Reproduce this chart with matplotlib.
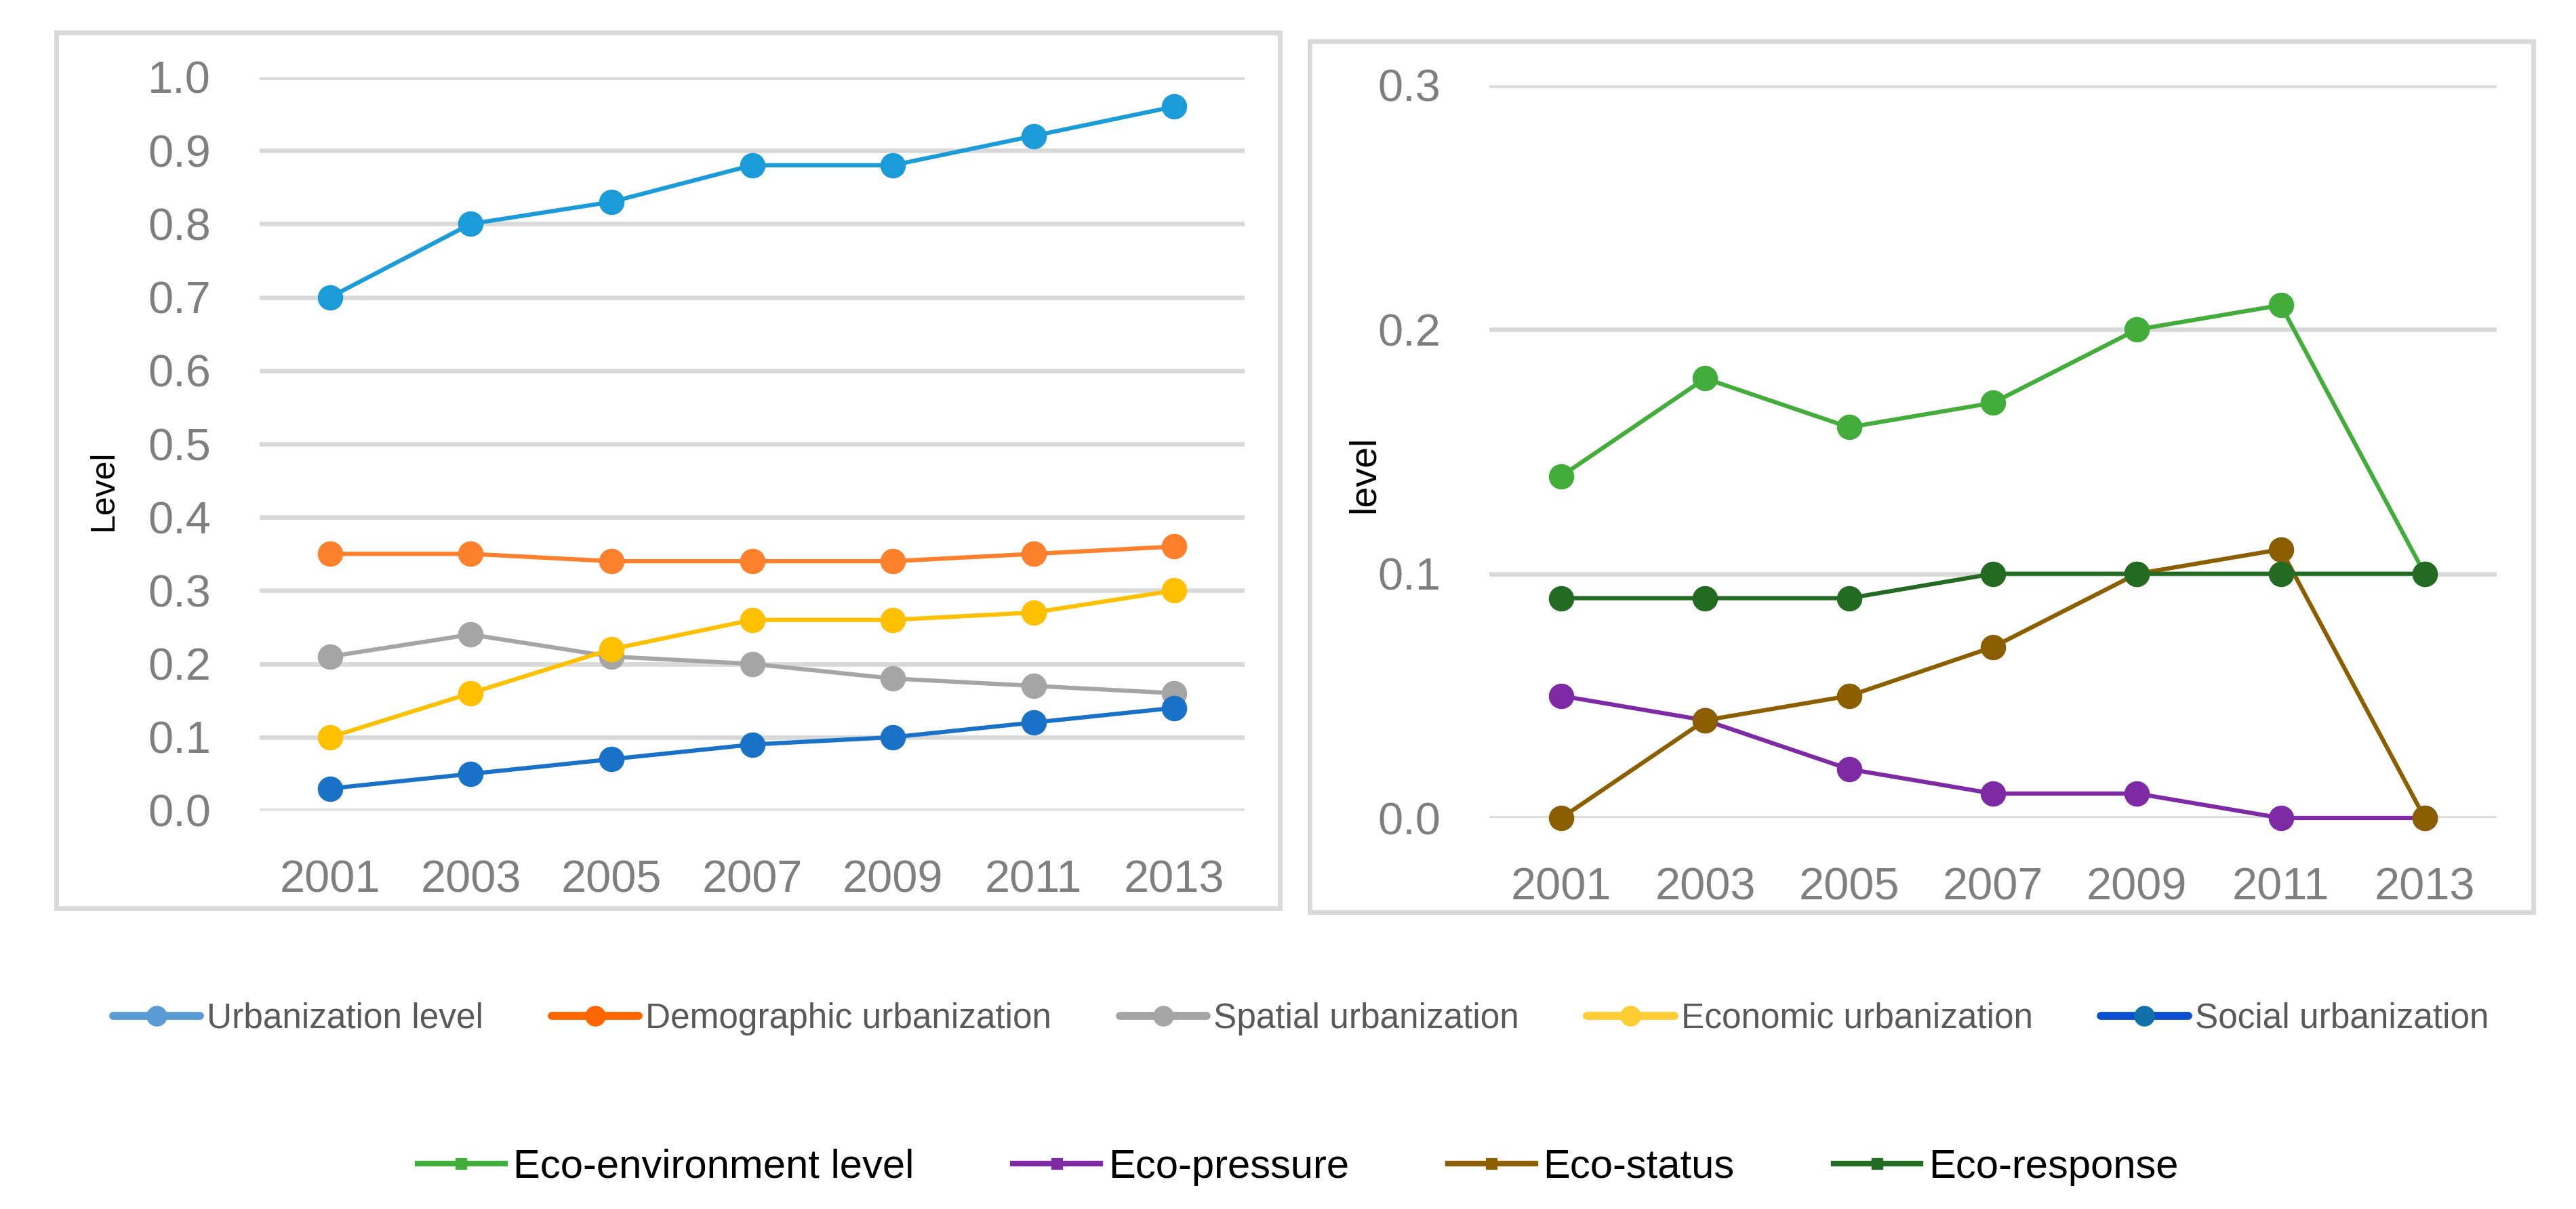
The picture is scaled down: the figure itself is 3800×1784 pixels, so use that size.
import matplotlib
matplotlib.use('Agg')
import matplotlib.pyplot as plt
from matplotlib.lines import Line2D
from matplotlib.patches import Rectangle

plt.rcParams['font.family'] = ['Liberation Sans', 'DejaVu Sans']

years = ['2001', '2003', '2005', '2007', '2009', '2011', '2013']

# left panel: urbanization subsystems
urbanization = [0.70, 0.80, 0.83, 0.88, 0.88, 0.92, 0.96]
demographic = [0.35, 0.35, 0.34, 0.34, 0.34, 0.35, 0.36]
spatial = [0.21, 0.24, 0.21, 0.20, 0.18, 0.17, 0.16]
economic = [0.10, 0.16, 0.22, 0.26, 0.26, 0.27, 0.30]
social = [0.03, 0.05, 0.07, 0.09, 0.10, 0.12, 0.14]
left_names = ['Urbanization level', 'Demographic urbanization', 'Spatial urbanization',
              'Economic urbanization', 'Social urbanization']
left_colors = ['#1B9CD9', '#FE7F2C', '#A5A5A5', '#FFC000', '#1A72C8']
left_legend_colors = ['#5B9BD5', '#FF6600', '#A5A5A5', '#FFCC33', '#0A50D0']
left_legend_marker = ['#5B9BD5', '#FF6600', '#A5A5A5', '#FFCC33', '#1070A8']

# right panel: eco-environment subsystems
eco_env = [0.14, 0.18, 0.16, 0.17, 0.20, 0.21, 0.10]
eco_pressure = [0.05, 0.04, 0.02, 0.01, 0.01, 0.00, 0.00]
eco_status = [0.00, 0.04, 0.05, 0.07, 0.10, 0.11, 0.00]
eco_response = [0.09, 0.09, 0.09, 0.10, 0.10, 0.10, 0.10]
right_names = ['Eco-environment level', 'Eco-pressure', 'Eco-status', 'Eco-response']
right_colors = ['#43AD3B', '#7F2AA5', '#8B5E00', '#236B23']

W, H = 3800, 1784
fig = plt.figure(figsize=(W / 100, H / 100), dpi=100)

grid_c = '#D9D9D9'
tick_c = '#7F7F7F'


def fx(px):
    return px / W


def fy(py):
    return 1 - py / H


def style_axis(ax, ymax, step):
    x = list(range(len(years)))
    ax.set_xlim(-0.5, len(years) - 0.5)
    ax.set_ylim(0, ymax)
    ticks = [i * step for i in range(int(round(ymax / step)) + 1)]
    ax.set_yticks(ticks)
    ax.set_yticklabels(['%.1f' % t for t in ticks])
    ax.set_xticks(x)
    ax.set_xticklabels(years)
    for s in ax.spines.values():
        s.set_visible(False)
    ax.tick_params(length=0, labelsize=48, labelcolor=tick_c, pad=52)
    ax.grid(axis='y', color=grid_c, linewidth=4.8)
    ax.set_axisbelow(True)
    return x


# frames around each chart
fig.add_artist(Rectangle((fx(83), fy(1340)), fx(1888 - 83), (1340 - 48) / H,
                         fill=False, edgecolor=grid_c, linewidth=5, transform=fig.transFigure))
fig.add_artist(Rectangle((fx(1932), fy(1346)), fx(3737 - 1932), (1346 - 61) / H,
                         fill=False, edgecolor=grid_c, linewidth=5, transform=fig.transFigure))

ax1 = fig.add_axes([fx(383), fy(1196), fx(1836 - 383), (1196 - 114) / H])
x = style_axis(ax1, 1.0, 0.1)
for vals, c in zip([urbanization, demographic, spatial, economic, social], left_colors):
    ax1.plot(x, vals, color=c, linewidth=4.5, marker='o', markersize=26, clip_on=False)
ax1.set_ylabel('Level', fontsize=36, color='black')
ax1.yaxis.set_label_coords(-0.1425, 0.437)

ax2 = fig.add_axes([fx(2197), fy(1207), fx(3683 - 2197), (1207 - 126) / H])
x = style_axis(ax2, 0.3, 0.1)
for vals, c in zip([eco_env, eco_pressure, eco_status, eco_response], right_colors):
    ax2.plot(x, vals, color=c, linewidth=4.5, marker='o', markersize=26, clip_on=False)
ax2.set_ylabel('level', fontsize=40, color='black')
ax2.yaxis.set_label_coords(-0.1063, 0.469)

# legends
h1 = [Line2D([], [], color=c, linewidth=8.5, solid_capstyle='round', marker='o',
             markersize=21, markerfacecolor=m, markeredgecolor=m)
      for c, m in zip(left_legend_colors, left_legend_marker)]
fig.legend(h1, left_names, loc='center', bbox_to_anchor=(1919 / W, fy(1503)), ncol=5,
           frameon=False, fontsize=37, labelcolor='#595959', handlelength=2.5,
           handletextpad=0.2, columnspacing=1.95)

h2 = [Line2D([], [], color=c, linewidth=6, marker='s', markersize=12) for c in right_colors]
fig.legend(h2, right_names, loc='center', bbox_to_anchor=(1915 / W, fy(1722)), ncol=4,
           frameon=False, fontsize=43, labelcolor='black', handlelength=2.15,
           handletextpad=0.2, columnspacing=2.45)

fig.savefig('out.png', dpi=100)
